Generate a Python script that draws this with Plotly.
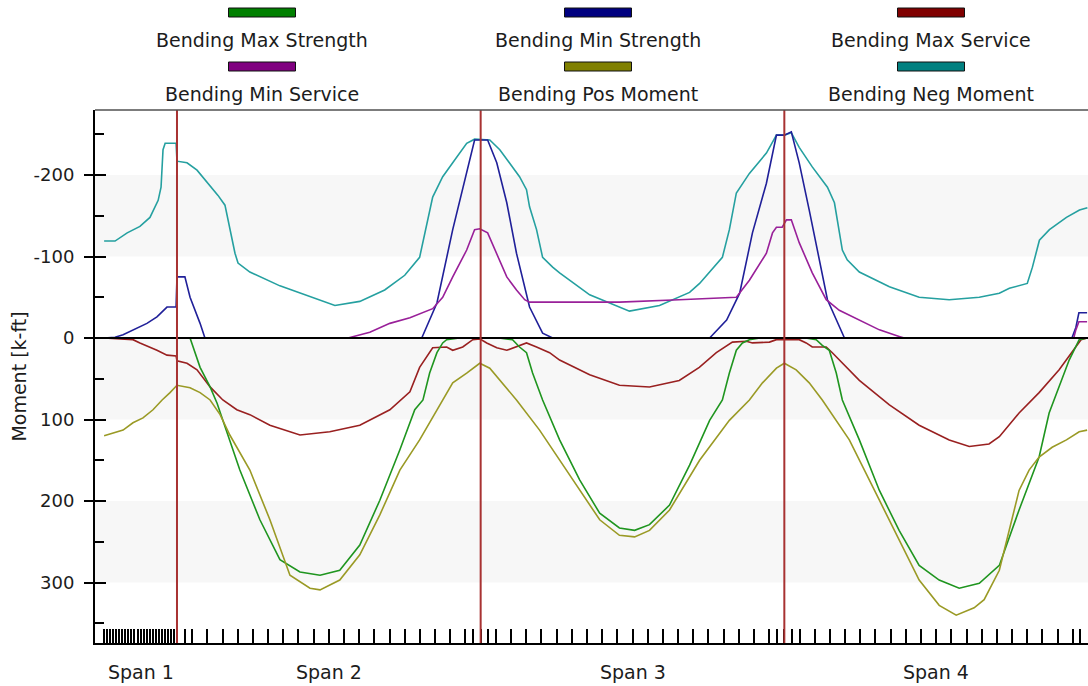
import plotly.graph_objects as go

# ---------------- data (distance along bridge [ft], moment [k-ft]) ----------------
span_labels = ["Span 1", "Span 2", "Span 3", "Span 4"]
span_bounds = [0, 24, 124, 224, 324]
support_x = [24, 124, 224]
y_tick_vals = [-200, -100, 0, 100, 200, 300]
y_tick_text = ["-200", "-100", "0", "100", "200", "300"]
y_minor_vals = [-250, -150, -50, 50, 150, 250, 350]

neg_x = [0, 3.6, 7.6, 11.8, 15.1, 17.8, 18.75, 19.4, 20.1, 23.7,
         24, 27.3, 30.6, 33.9, 37.5, 39.8, 41.4, 43.1, 44.1, 48, 57.9, 64.5, 76, 84.2, 92.4, 99, 103.9,
         108.2, 111.5, 114.8, 119.4, 122, 127, 130.3, 133.5, 136.8, 139.1, 140.1, 142.4, 144.4, 147.7, 150,
         159.9, 173, 182.9, 192.8, 196.1, 203.6, 205.9, 208.2, 212.5, 218.1, 221.4, 224, 226.3, 228.9,
         233.2, 238.2, 240.5, 243.1, 244.7, 248.7, 258.6, 268.4, 278.3, 288.2, 294.8, 298.1, 304, 305.7,
         308, 311.3, 316.9, 321.2, 323.8]
neg_y = [-119, -119, -129, -137, -148, -169, -185, -231, -239, -239,
         -217, -215, -206, -191, -175, -163, -136, -104, -92, -81, -64, -55, -40, -45, -59, -77, -99,
         -173, -198, -215, -239, -244, -243, -231, -215, -198, -182, -161, -133, -99, -87, -80,
         -53, -33, -40, -56, -67, -99, -133, -178, -202, -227, -249, -249, -252, -234,
         -210, -185, -166, -108, -96, -81, -63, -50, -47, -50, -55, -61, -67, -87,
         -120, -133, -148, -157, -160]

minstr_x = [0, 3.6, 6.25, 9.5, 14.1, 17.4, 20.7, 23.7, 24, 26.6, 28.3, 31.6, 33.2,
            104.6, 109.6, 114.8, 118.1, 122, 126.3, 129.3, 132.6, 135.8, 140.1, 144.4, 147.7,
            199.4, 205, 209.3, 213.5, 218.1, 221.4, 224, 226.3, 228.9, 232.2, 235.5, 238.2, 243.8,
            318.7, 320, 321, 323.7]
minstr_y = [0, -1, -4, -10, -18, -26, -38, -38, -75, -75, -50, -18, 0,
            0, -43, -133, -185, -243, -243, -215, -166, -104, -38, -6, 0,
            0, -22, -55, -129, -190, -249, -249, -253, -215, -157, -96, -47, 0,
            0, -13, -31, -31]

minsvc_x = [80.3, 87.5, 94.1, 100.7, 108.2, 111.5, 114.8, 119.4, 122, 123.7, 126.3, 129.3, 132.6,
            135.8, 138.5, 140.1, 169.7, 189.4, 208.2, 212.5, 218.1, 220.1, 221.4, 223.3, 224.7,
            226.3, 228.9, 233.2, 237.8, 242.1, 248.7, 255.3, 261.8, 263.5,
            319.3, 320, 321, 323.7]
minsvc_y = [0, -7, -18, -25, -36, -50, -75, -108, -133, -134, -129, -104, -75,
            -59, -47, -44, -44, -47, -50, -71, -104, -129, -136, -136, -145,
            -145, -117, -80, -47, -34, -22, -10, -2, 0,
            0, -10, -20, -20]

maxsvc_x = [0, 9.5, 11.8, 15.1, 17.4, 20.7, 23.7, 24, 27.3, 30.6, 34.9, 39.1, 43.7, 48, 54.6, 64.5,
            74.3, 84.2, 94.1, 100.7, 103.9, 108.2, 112.8, 114.8, 118.1, 121.4, 123.7, 126, 129.3,
            132.6, 135.8, 139.1, 142.4, 146.7, 150, 159.9, 169.7, 179.6, 189.4, 196, 201.6, 206.9,
            211.5, 213.5, 219.1, 221.4, 228.9, 231.2, 233.2, 237.8, 239.8, 244.4, 248.7, 258.6,
            268.4, 278.3, 284.9, 291.4, 294.8, 301.3, 307.9, 314.5, 320, 321.7, 323.7]
maxsvc_y = [0, 2, 6, 11, 15, 21, 22, 28, 31, 39, 60, 76, 88, 94, 107, 119,
            115, 107, 88, 66, 36, 12, 11, 15, 11, 2, 1, 6, 12,
            15, 11, 6, 11, 18, 27, 45, 58, 60, 52, 36, 18, 5,
            4, 6, 5, 2, 2, 6, 11, 11, 18, 36, 52, 82,
            107, 125, 133, 130, 121, 92, 67, 39, 11, 2, 0]

maxstr_x = [28.3, 31.6, 34.9, 37.2, 39.1, 44.7, 51.3, 57.9, 64.5, 71.1, 77.6, 84.2, 90.8, 97.4,
            102.3, 105, 107.2, 109.6, 111.5, 112.8, 117,
            130, 134.5, 136.8, 139.1, 141.1, 144.4, 150, 156.6, 163.2, 169.7, 174.7, 179.6, 186.2,
            192.8, 199.4, 203.6, 205.9, 208.2, 210.2, 212.5, 216,
            231, 234.5, 236.5, 238.8, 241.1, 243.1, 248.7, 255.3, 261.8, 268.4, 275, 281.6, 288.2,
            294.8, 301.3, 307.9, 311.2, 314.5, 317.8, 321.1, 323.7]
maxstr_y = [0, 36, 60, 80, 101, 162, 223, 272, 287, 291, 285, 254, 199, 137,
            88, 76, 43, 18, 6, 2, 0,
            0, 2, 11, 18, 43, 76, 125, 174, 215, 233, 236, 229, 205,
            156, 101, 76, 43, 15, 6, 2, 0,
            0, 2, 9, 15, 43, 76, 125, 187, 236, 279, 297, 307, 301,
            279, 211, 146, 92, 60, 27, 2, 0]

pos_x = [0, 3, 6.25, 9.5, 12.8, 16.1, 19.1, 21.7, 24, 28.3, 31.6, 34.9, 38.2, 41.4, 48, 54.6,
         61.2, 67.8, 71.1, 77.6, 84.2, 90.8, 97.4, 103.9, 111.5, 114.8, 119.4, 123.7, 127, 130.3,
         133.5, 135.8, 143.4, 150, 156.6, 163.2, 169.7, 174.7, 179.6, 186.2, 196.1, 205.9, 212.5,
         216.8, 221.4, 224, 227.9, 232.2, 236.5, 245.4, 255.3, 261.8, 268.4, 275, 280.6, 286.5,
         289.8, 294.8, 301.3, 304.6, 307.9, 312.2, 316.9, 321.1, 323.7]
pos_y = [120, 117, 113, 104, 98, 88, 76, 67, 58, 61, 67, 76, 94, 119, 162, 223,
         291, 307, 309, 297, 266, 217, 162, 125, 76, 55, 43, 31, 37, 52,
         67, 76, 113, 150, 187, 223, 242, 244, 236, 211, 150, 101, 76,
         55, 37, 31, 39, 55, 76, 125, 199, 248, 297, 328, 340, 331,
         321, 285, 187, 162, 146, 134, 125, 115, 113]

series = [
    ("Bending Max Strength", maxstr_x, maxstr_y, "#008000", "#1f951f"),
    ("Bending Min Strength", minstr_x, minstr_y, "#000080", "#202099"),
    ("Bending Max Service", maxsvc_x, maxsvc_y, "#800000", "#992020"),
    ("Bending Min Service", minsvc_x, minsvc_y, "#800080", "#992099"),
    ("Bending Pos Moment", pos_x, pos_y, "#808000", "#9a9a25"),
    ("Bending Neg Moment", neg_x, neg_y, "#008080", "#25a0a0"),
]

# x tick positions: dense in span 1, every 5 ft in others, plus extras near supports
tick_x = list(range(0, 25)) + [24 + 5 * k for k in range(1, 61)] + [26.5, 121.5, 126.5, 221.5, 226.5, 321.5]

FONT = "DejaVu Sans"
TXT = "#1c1c1c"
FS = 19

fig = go.Figure()
draw_order = [5, 1, 3, 2, 0, 4]
for i in draw_order:
    name, xs, ys, lc, dc = series[i]
    fig.add_trace(go.Scatter(x=xs, y=ys, mode="lines", name=name,
                             line=dict(color=dc, width=1.6), showlegend=False))

# dummy trace to host the overlay axis (major y ticks crossing inward)
fig.add_trace(go.Scatter(x=[None], y=[None], yaxis="y2", showlegend=False, hoverinfo="skip"))

YR = [374.2, -279.8]
XR = [-3, 324]

shapes = []
for lo, hi in [(-200, -100), (0, 100), (200, 300)]:
    shapes.append(dict(type="rect", xref="paper", yref="y", x0=0, x1=1, y0=lo, y1=hi,
                       fillcolor="#f7f7f7", line=dict(width=0), layer="below"))
shapes.append(dict(type="line", xref="paper", yref="y", x0=0, x1=1, y0=0, y1=0,
                   line=dict(color="black", width=2), layer="above"))
for sx in support_x:
    shapes.append(dict(type="line", xref="x", yref="paper", x0=sx, x1=sx, y0=0, y1=1,
                       line=dict(color="#a83232", width=2), layer="above"))
shapes.append(dict(type="line", xref="paper", yref="paper", x0=0, x1=1, y0=1, y1=1,
                   line=dict(color="#505050", width=1.5), layer="above"))

annotations = []
for k, lab in enumerate(span_labels):
    cx = (span_bounds[k] + span_bounds[k + 1]) / 2
    annotations.append(dict(text=lab, x=cx, xref="x", y=0, yref="paper", yshift=-29,
                            yanchor="middle", xanchor="center", showarrow=False,
                            font=dict(family=FONT, size=FS, color=TXT)))

# custom legend (swatch above label), 3 columns x 2 rows
W, H = 1088, 686
L, T, B = 95, 110, 43
pw, ph = W - L, H - T - B
col_cx = [262, 598, 931]
row_sw = [12.5, 66.5]
row_tx = [40, 94]
for idx, (name, xs, ys, lc, dc) in enumerate(series):
    r, c = divmod(idx, 3)
    cx = (col_cx[c] - L) / pw
    y0 = (H - B - (row_sw[r] - 4.5)) / ph
    y1 = (H - B - (row_sw[r] + 4.5)) / ph
    hw = 33.5 / pw
    shapes.append(dict(type="rect", xref="paper", yref="paper", x0=cx - hw, x1=cx + hw,
                       y0=y1, y1=y0, fillcolor=lc, line=dict(color="#111", width=1)))
    annotations.append(dict(text=name, x=cx, xref="paper", y=(H - B - row_tx[r]) / ph, yref="paper",
                            xanchor="center", yanchor="middle", showarrow=False,
                            font=dict(family=FONT, size=FS, color=TXT)))

fig.update_layout(
    width=W, height=H,
    margin=dict(l=L, r=0, t=T, b=B),
    paper_bgcolor="white", plot_bgcolor="white",
    font=dict(family=FONT, size=FS, color=TXT),
    showlegend=False,
    xaxis=dict(range=XR, showgrid=False, zeroline=False, showline=True, linecolor="black",
               linewidth=2, ticks="inside", ticklen=14, tickwidth=1.5, tickcolor="black",
               tickmode="array", tickvals=tick_x, showticklabels=False),
    yaxis=dict(range=YR, showgrid=False, zeroline=False, showline=True, linecolor="black",
               linewidth=2, ticks="outside", ticklen=9, tickwidth=1.5, tickcolor="black",
               tickmode="array", tickvals=y_tick_vals, ticktext=y_tick_text, ticklabelstandoff=6,
               tickfont=dict(family=FONT, size=18, color=TXT),
               minor=dict(ticks="inside", ticklen=9, tickwidth=1.5, tickcolor="black",
                          tickmode="array", tickvals=y_minor_vals, showgrid=False),
               title=dict(text="Moment [k-ft]", standoff=2,
                          font=dict(family=FONT, size=FS, color=TXT))),
    yaxis2=dict(range=YR, overlaying="y", side="left", showgrid=False, zeroline=False,
                showline=False, ticks="inside", ticklen=11, tickwidth=1.5, tickcolor="black",
                tickmode="array", tickvals=y_tick_vals, showticklabels=False),
    shapes=shapes,
    annotations=annotations,
)

fig.write_html("out.html", config={"displayModeBar": False},
               post_script="document.body.style.margin='0px';document.body.style.overflow='hidden';")
